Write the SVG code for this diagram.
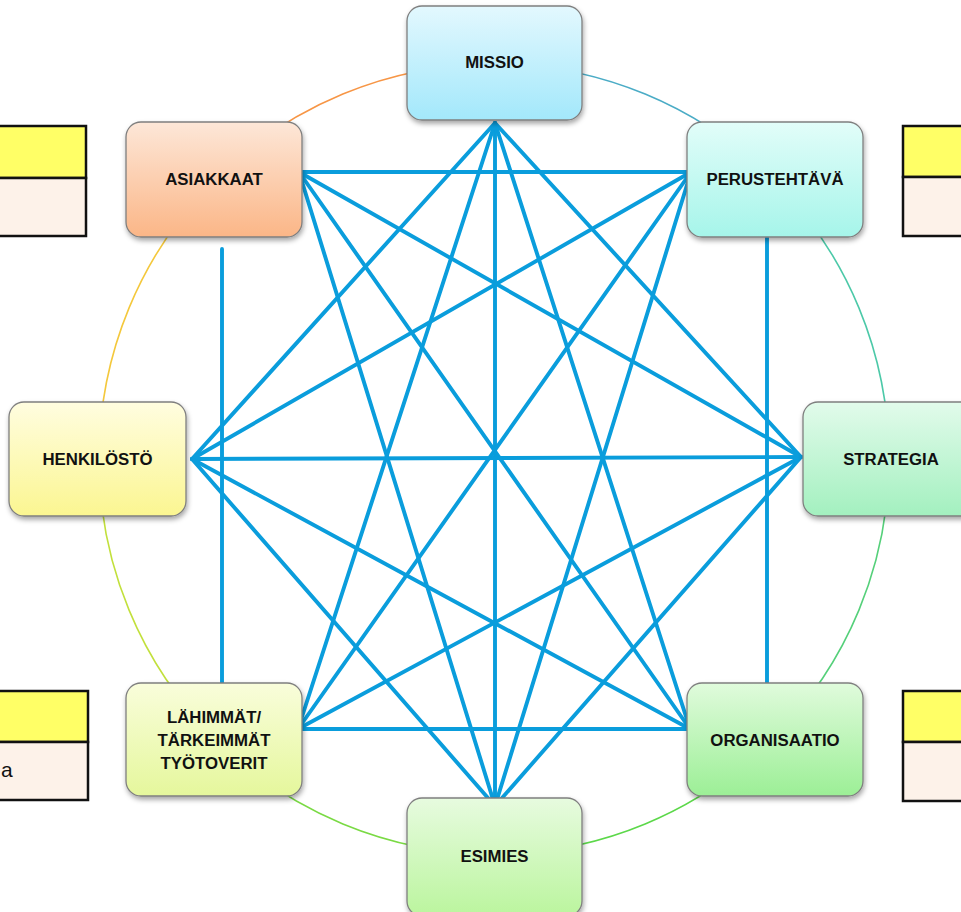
<svg xmlns="http://www.w3.org/2000/svg" width="961" height="912" viewBox="0 0 961 912">
<style>
.node rect{stroke:#7f7f7f;stroke-width:1.3;filter:url(#sh)}
.node text{font-family:"Liberation Sans",Arial,sans-serif;font-weight:bold;font-size:16.8px;fill:#111;text-anchor:middle}
.edge{stroke:#0a9ddc;stroke-width:3.9;fill:none;stroke-linecap:round}
.arc{fill:none;stroke-width:1.6}
.tbl{stroke:#111;stroke-width:2.5}
</style>
<defs>
<filter id="sh" x="-10%" y="-10%" width="125%" height="130%">
<feDropShadow dx="1" dy="3" stdDeviation="2.5" flood-color="#000" flood-opacity="0.35"/>
</filter>
<linearGradient id="gM" x1="0" y1="0" x2="0" y2="1"><stop offset="0" stop-color="#e3f8fe"/><stop offset="1" stop-color="#a3e8fb"/></linearGradient>
<linearGradient id="gA" x1="0" y1="0" x2="0" y2="1"><stop offset="0" stop-color="#fde7d8"/><stop offset="1" stop-color="#fbb687"/></linearGradient>
<linearGradient id="gP" x1="0" y1="0" x2="0" y2="1"><stop offset="0" stop-color="#e2fdf9"/><stop offset="1" stop-color="#a6f5ea"/></linearGradient>
<linearGradient id="gH" x1="0" y1="0" x2="0" y2="1"><stop offset="0" stop-color="#fffde0"/><stop offset="1" stop-color="#fbf691"/></linearGradient>
<linearGradient id="gS" x1="0" y1="0" x2="0" y2="1"><stop offset="0" stop-color="#e2fbeb"/><stop offset="1" stop-color="#a3f0bf"/></linearGradient>
<linearGradient id="gL" x1="0" y1="0" x2="0" y2="1"><stop offset="0" stop-color="#f9fddb"/><stop offset="1" stop-color="#e5f79c"/></linearGradient>
<linearGradient id="gO" x1="0" y1="0" x2="0" y2="1"><stop offset="0" stop-color="#e0fbdc"/><stop offset="1" stop-color="#9cef96"/></linearGradient>
<linearGradient id="gE" x1="0" y1="0" x2="0" y2="1"><stop offset="0" stop-color="#e7fbdf"/><stop offset="1" stop-color="#bbf59e"/></linearGradient>
</defs>
<rect width="961" height="912" fill="#fff"/>

<g id="side-tables">
<rect class="tbl" x="-3" y="126" width="89" height="52" fill="#ffff66"/>
<rect class="tbl" x="-3" y="178" width="89" height="58" fill="#fdf2e9"/>
<rect class="tbl" x="-3" y="691" width="91" height="51" fill="#ffff66"/>
<rect class="tbl" x="-3" y="742" width="91" height="58" fill="#fdf2e9"/>
<text x="1" y="777" font-family="Liberation Sans,Arial,sans-serif" font-size="21" fill="#111">a</text>
<rect class="tbl" x="903" y="126" width="70" height="51" fill="#ffff66"/>
<rect class="tbl" x="903" y="177" width="70" height="59" fill="#fdf2e9"/>
<rect class="tbl" x="903" y="691" width="70" height="51" fill="#ffff66"/>
<rect class="tbl" x="903" y="742" width="70" height="59" fill="#fdf2e9"/>
</g>

<g id="ring">
<path class="arc" stroke="#f79646" d="M214.7 179.7 A395 395 0 0 1 494 64"/>
<path class="arc" stroke="#4bacc6" d="M494 64 A395 395 0 0 1 773.3 179.7"/>
<path class="arc" stroke="#4cc9a8" d="M773.3 179.7 A395 395 0 0 1 889 459"/>
<path class="arc" stroke="#55d07a" d="M889 459 A395 395 0 0 1 773.3 738.3"/>
<path class="arc" stroke="#5cd84a" d="M773.3 738.3 A395 395 0 0 1 494 854"/>
<path class="arc" stroke="#7ada44" d="M494 854 A395 395 0 0 1 214.7 738.3"/>
<path class="arc" stroke="#c2e03c" d="M214.7 738.3 A395 395 0 0 1 99 459"/>
<path class="arc" stroke="#f4c83c" d="M99 459 A395 395 0 0 1 214.7 179.7"/>
</g>

<g id="connectors">
<line class="edge" x1="495" y1="123" x2="801" y2="457"/>
<line class="edge" x1="495" y1="123" x2="690" y2="729"/>
<line class="edge" x1="495" y1="123" x2="495" y2="806"/>
<line class="edge" x1="495" y1="123" x2="298" y2="729"/>
<line class="edge" x1="495" y1="123" x2="192" y2="459"/>
<line class="edge" x1="691" y1="172" x2="495" y2="806"/>
<line class="edge" x1="691" y1="172" x2="298" y2="729"/>
<line class="edge" x1="691" y1="172" x2="192" y2="459"/>
<line class="edge" x1="691" y1="172" x2="299" y2="172"/>
<line class="edge" x1="801" y1="457" x2="495" y2="806"/>
<line class="edge" x1="801" y1="457" x2="298" y2="729"/>
<line class="edge" x1="801" y1="457" x2="192" y2="459"/>
<line class="edge" x1="801" y1="457" x2="299" y2="172"/>
<line class="edge" x1="690" y1="729" x2="298" y2="729"/>
<line class="edge" x1="690" y1="729" x2="192" y2="459"/>
<line class="edge" x1="690" y1="729" x2="299" y2="172"/>
<line class="edge" x1="495" y1="806" x2="192" y2="459"/>
<line class="edge" x1="495" y1="806" x2="299" y2="172"/>
<line class="edge" x1="222" y1="249" x2="222" y2="683"/>
<line class="edge" x1="767" y1="233" x2="767" y2="686"/>
</g>

<g id="n-missio" class="node"><rect x="407" y="6" width="175" height="114" rx="15" fill="url(#gM)"/><text x="494.5" y="68">MISSIO</text></g>
<g id="n-asiakkaat" class="node"><rect x="126" y="122" width="176" height="115" rx="15" fill="url(#gA)"/><text x="214" y="185">ASIAKKAAT</text></g>
<g id="n-perustehtava" class="node"><rect x="687" y="122" width="176" height="115" rx="15" fill="url(#gP)"/><text x="775" y="185">PERUSTEHTÄVÄ</text></g>
<g id="n-henkilosto" class="node"><rect x="9" y="402" width="177" height="114" rx="15" fill="url(#gH)"/><text x="97.5" y="465">HENKILÖSTÖ</text></g>
<g id="n-strategia" class="node"><rect x="803" y="402" width="176" height="114" rx="15" fill="url(#gS)"/><text x="891" y="465">STRATEGIA</text></g>
<g id="n-lahimmat" class="node"><rect x="126" y="683" width="176" height="113" rx="15" fill="url(#gL)"/><text x="214" y="723">LÄHIMMÄT/</text><text x="214" y="746">TÄRKEIMMÄT</text><text x="214" y="769">TYÖTOVERIT</text></g>
<g id="n-organisaatio" class="node"><rect x="687" y="683" width="176" height="113" rx="15" fill="url(#gO)"/><text x="775" y="746">ORGANISAATIO</text></g>
<g id="n-esimies" class="node"><rect x="407" y="798" width="175" height="118" rx="15" fill="url(#gE)"/><text x="494.5" y="862">ESIMIES</text></g>
</svg>
